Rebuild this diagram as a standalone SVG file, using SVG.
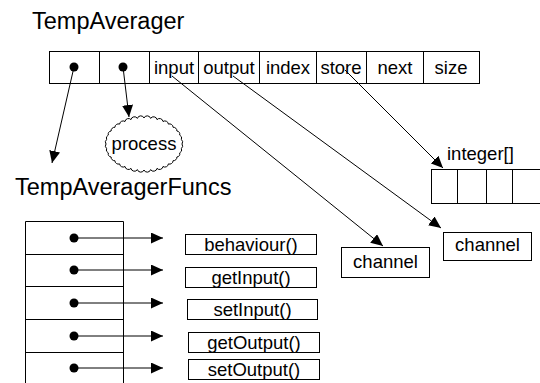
<svg xmlns="http://www.w3.org/2000/svg" width="540" height="383" viewBox="0 0 540 383">
<style>
.t{font-family:"Liberation Sans",Arial,sans-serif;fill:#000}
.lbl{font-size:18.5px}
.big{font-size:23.5px}
.box{fill:#fff;stroke:#000;stroke-width:1}
.ln{stroke:#000;stroke-width:1;fill:none}
.con{stroke:#000;stroke-width:1;fill:none;marker-end:url(#ah)}
.dot{fill:#000}
</style>
<defs>
<marker id="ah" markerUnits="userSpaceOnUse" markerWidth="12" markerHeight="11" refX="12" refY="5.5" orient="auto">
<path d="M0,0 L12,5.5 L0,11 z" fill="#000"/>
</marker>
</defs>
<rect width="540" height="383" fill="#fff"/>

<g id="TempAverager">
<text class="t big" x="32" y="29">TempAverager</text>
<rect class="box" x="49.5" y="51.5" width="430" height="32"/>
<path class="ln" d="M99.5,51.5V83.5M149.5,51.5V83.5M198.5,51.5V83.5M259.5,51.5V83.5M316.5,51.5V83.5M366.5,51.5V83.5M423.5,51.5V83.5"/>
<circle class="dot" cx="74" cy="67" r="4.5"/>
<circle class="dot" cx="123" cy="67" r="4.5"/>
<g class="t lbl" text-anchor="middle">
<text x="174" y="74">input</text>
<text x="229" y="74">output</text>
<text x="288" y="74">index</text>
<text x="341" y="74">store</text>
<text x="395" y="74">next</text>
<text x="451" y="74">size</text>
</g>
</g>

<g id="process">
<path class="box" d="M182,144 A3.5,3.5 0 0 1 181.4,148.5 A3.5,3.5 0 0 1 179.7,152.9 A3.5,3.5 0 0 1 176.9,157 A3.5,3.5 0 0 1 173.1,160.7 A3.5,3.5 0 0 1 168.4,163.9 A3.5,3.5 0 0 1 163,166.5 A3.5,3.5 0 0 1 157,168.4 A3.5,3.5 0 0 1 150.6,169.6 A3.5,3.5 0 0 1 144,170 A3.5,3.5 0 0 1 137.4,169.6 A3.5,3.5 0 0 1 131,168.4 A3.5,3.5 0 0 1 125,166.5 A3.5,3.5 0 0 1 119.6,163.9 A3.5,3.5 0 0 1 114.9,160.7 A3.5,3.5 0 0 1 111.1,157 A3.5,3.5 0 0 1 108.3,152.9 A3.5,3.5 0 0 1 106.6,148.5 A3.5,3.5 0 0 1 106,144 A3.5,3.5 0 0 1 106.6,139.5 A3.5,3.5 0 0 1 108.3,135.1 A3.5,3.5 0 0 1 111.1,131 A3.5,3.5 0 0 1 114.9,127.3 A3.5,3.5 0 0 1 119.6,124.1 A3.5,3.5 0 0 1 125,121.5 A3.5,3.5 0 0 1 131,119.6 A3.5,3.5 0 0 1 137.4,118.4 A3.5,3.5 0 0 1 144,118 A3.5,3.5 0 0 1 150.6,118.4 A3.5,3.5 0 0 1 157,119.6 A3.5,3.5 0 0 1 163,121.5 A3.5,3.5 0 0 1 168.4,124.1 A3.5,3.5 0 0 1 173.1,127.3 A3.5,3.5 0 0 1 176.9,131 A3.5,3.5 0 0 1 179.7,135.1 A3.5,3.5 0 0 1 181.4,139.5 A3.5,3.5 0 0 1 182,144 Z"/>
<text class="t lbl" x="144" y="150" text-anchor="middle">process</text>
</g>

<g id="TempAveragerFuncs">
<text class="t big" x="15" y="195">TempAveragerFuncs</text>
<path class="ln" d="M25.5,221.5V383M123.5,221.5V383M25.5,221.5H123.5M25.5,254.5H123.5M25.5,286.5H123.5M25.5,319.5H123.5M25.5,352.5H123.5"/>
<circle class="dot" cx="74" cy="238" r="4.5"/>
<circle class="dot" cx="74" cy="270" r="4.5"/>
<circle class="dot" cx="74" cy="303" r="4.5"/>
<circle class="dot" cx="74" cy="336" r="4.5"/>
<circle class="dot" cx="74" cy="368" r="4.5"/>
</g>

<g id="behaviour">
<rect class="box" x="185.5" y="234.5" width="131" height="20"/>
<text class="t lbl" x="251" y="251" text-anchor="middle">behaviour()</text>
</g>
<g id="getInput">
<rect class="box" x="185.5" y="267.5" width="131" height="20"/>
<text class="t lbl" x="251" y="284" text-anchor="middle">getInput()</text>
</g>
<g id="setInput">
<rect class="box" x="187.5" y="299.5" width="130" height="20"/>
<text class="t lbl" x="252.5" y="316" text-anchor="middle">setInput()</text>
</g>
<g id="getOutput">
<rect class="box" x="188.5" y="332.5" width="131" height="20"/>
<text class="t lbl" x="254" y="349" text-anchor="middle">getOutput()</text>
</g>
<g id="setOutput">
<rect class="box" x="188.5" y="359.5" width="131" height="20"/>
<text class="t lbl" x="254" y="376" text-anchor="middle">setOutput()</text>
</g>

<g id="channel1">
<rect class="box" x="341.5" y="247.5" width="88" height="30"/>
<text class="t lbl" x="385.5" y="268" text-anchor="middle">channel</text>
</g>
<g id="channel2">
<rect class="box" x="443.5" y="232.5" width="88" height="28"/>
<text class="t lbl" x="487.5" y="251" text-anchor="middle">channel</text>
</g>

<g id="integerArray">
<text class="t lbl" x="447" y="160">integer[]</text>
<rect class="box" x="431.5" y="169.5" width="115" height="34"/>
<path class="ln" d="M457.5,169.5V203.5M486.5,169.5V203.5M512.5,169.5V203.5"/>
</g>

<g id="connectors">
<line class="con" x1="74" y1="67" x2="52" y2="163"/>
<line class="con" x1="123" y1="67" x2="129" y2="117"/>
<line class="con" x1="172" y1="76" x2="383" y2="246"/>
<line class="con" x1="233" y1="76" x2="441" y2="228"/>
<line class="con" x1="345" y1="70" x2="443" y2="168"/>
<line class="con" x1="74" y1="238" x2="163" y2="238"/>
<line class="con" x1="74" y1="270" x2="163" y2="270"/>
<line class="con" x1="74" y1="303" x2="163" y2="303"/>
<line class="con" x1="74" y1="336" x2="163" y2="336"/>
<line class="con" x1="74" y1="368" x2="163" y2="368"/>
</g>
</svg>
